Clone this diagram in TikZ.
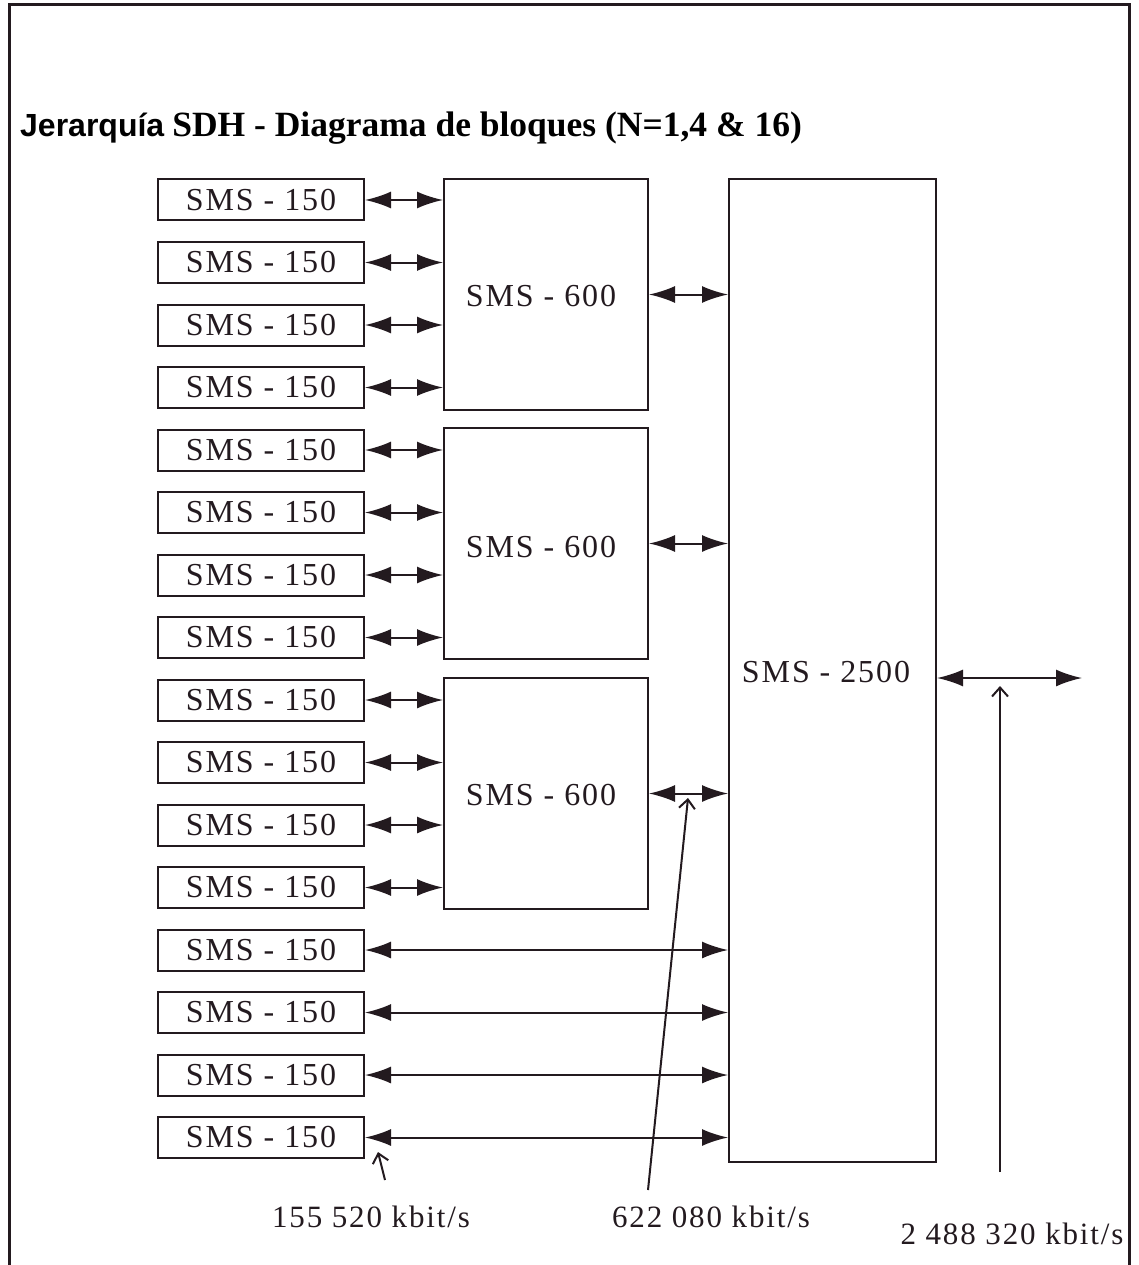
\documentclass[tikz,border=0pt]{standalone}
\usepackage{fontspec}
\setmainfont{Liberation Serif}
\newfontfamily\labfont[LetterSpace=6]{Liberation Serif}
\newfontfamily\titsans{Liberation Sans}
\usetikzlibrary{arrows.meta}
\definecolor{ink}{HTML}{231A1F}
\tikzset{
  smsbox/.style={draw=ink, line width=2pt, inner sep=0pt, font=\labfont\fontsize{32}{32}\selectfont, text=ink},
  lbl/.style={inner sep=0pt, font=\labfont\fontsize{32}{32}\selectfont, text=ink},
  ratelbl/.style={inner sep=0pt, font=\labfont\fontsize{31}{31}\selectfont, text=ink},
  link/.style={draw=ink, line width=2pt, {Latex[length=26pt,width=17pt]}-{Latex[length=26pt,width=17pt]}},
  pointer/.style={draw=ink, line width=2pt, -{Straight Barb[length=9pt,width=16pt]}}
}
\begin{document}
\begin{tikzpicture}[x=1pt,y=-1pt]
\useasboundingbox (0,0) rectangle (1138,1265);
\fill[white] (0,0) rectangle (1138,1265);
% frame
\draw[ink, line width=3pt] (9,1265) -- (9,5) -- (1129,5) -- (1129,1265);
% title
\node[anchor=base west, inner sep=0pt, text=black] (title) at (20,137)
  {{\titsans\bfseries\fontsize{32}{32}\selectfont Jerarquía}\hspace{8pt}{\bfseries\fontsize{35.5}{36}\selectfont SDH - Diagrama de bloques (N=1,4 \& 16)}};
% SMS-150 boxes
\foreach \i in {1,...,16} {
  \pgfmathsetmacro{\yc}{200+62.5*(\i-1)}
  \node[smsbox, minimum width=206pt, minimum height=41pt] (s\i) at (261,\yc) {SMS - 150\hspace{6pt}};
}
% SMS-600 boxes
\node[smsbox, minimum width=204pt, minimum height=231pt] (m1) at (546,294.5) {};
\node[smsbox, minimum width=204pt, minimum height=231pt] (m2) at (546,543.5) {};
\node[smsbox, minimum width=204pt, minimum height=231pt] (m3) at (546,793.5) {};
\node[lbl] (m1t) at (541,296) {SMS - 600};
\node[lbl] (m2t) at (541,547) {SMS - 600};
\node[lbl] (m3t) at (541,795) {SMS - 600};
% SMS-2500
\node[smsbox, minimum width=207pt, minimum height=983pt] (big) at (832.5,670.5) {};
\node[lbl] (bigt) at (826,672) {SMS - 2500};
% links 150 <-> 600
\foreach \i/\m in {1/m1,2/m1,3/m1,4/m1,5/m2,6/m2,7/m2,8/m2,9/m3,10/m3,11/m3,12/m3} {
  \draw[link] (s\i.east) -- (s\i.east -| \m.west);
}
% links 600 <-> 2500
\foreach \m in {m1,m2,m3} {
  \draw[link] (\m.east) -- (\m.east -| big.west);
}
% direct links 150 <-> 2500
\foreach \i in {13,...,16} {
  \draw[link] (s\i.east) -- (s\i.east -| big.west);
}
% output
\coordinate (out) at (1082,678);
\draw[link] (big.east |- out) -- (out);
% labels
\node[ratelbl] (r1) at (371,1217) {155 520 kbit/s};
\node[ratelbl] (r2) at (711,1217) {622 080 kbit/s};
\node[ratelbl] (r3) at (1012,1234) {2 488 320 kbit/s};
% pointers
\coordinate (p1a) at (385,1180);
\coordinate (p1b) at (378,1152);
\coordinate (p2a) at (648,1190);
\coordinate (p2b) at (688,798);
\coordinate (p3a) at (1000,1172);
\coordinate (p3b) at (1000,686);
\draw[pointer] (p1a) -- (p1b);
\draw[pointer] (p2a) -- (p2b);
\draw[pointer] (p3a) -- (p3b);
\end{tikzpicture}
\end{document}
